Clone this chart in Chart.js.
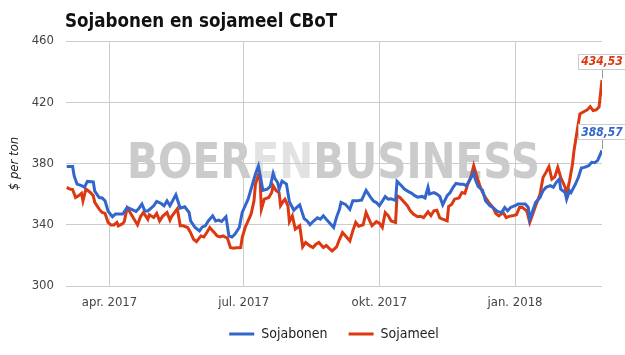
<!DOCTYPE html>
<html><head><meta charset="utf-8">
<script src="https://cdn.jsdelivr.net/npm/chart.js@4/dist/chart.umd.min.js"></script>
<style>html,body{margin:0;padding:0;background:#fff}#wrap{width:625px;height:355px;position:relative}</style>
</head><body><div id="wrap"><canvas id="c" width="625" height="355"></canvas></div>
<script>
// ---- data (days counted from 2017-03-01) ----
const chartTitle = 'Sojabonen en sojameel CBoT';
const axisTitle = '$ per ton';
const watermark = ['BOER', 'EN', 'BUSINESS'];
const seriesNames = ['Sojabonen', 'Sojameel'];
const tickDays = [31, 122, 214, 306];
const tickLabels = ['apr. 2017', 'jul. 2017', 'okt. 2017', 'jan. 2018'];
const yTicks = [300, 340, 380, 420, 460];

const soyDays = [2,6,7,9,12,14,16,20,21,24,26,28,30,33,35,40,43,46,49,51,53,55,57,61,63,66,68,70,72,76,79,82,85,86,89,92,94,96,98,101,103,105,107,110,112,114,116,119,121,123,125,128,130,132,134,135,138,140,142,143,145,146,148,151,153,156,158,160,163,165,167,169,172,174,176,178,180,183,185,187,188,191,194,196,199,202,205,208,210,212,214,218,220,222,225,226,229,231,234,236,238,240,243,245,247,248,251,253,255,257,260,262,264,266,269,271,273,275,278,279,281,284,286,289,291,294,297,299,301,303,306,308,310,313,315,316,318,320,323,325,327,330,332,334,336,337,340,341,343,344,347,349,351,353,356,358,360,362,365];
const soyValues = [378,378,372,366.5,365.5,364.5,368.3,368,362,357.8,357.5,355.6,349,345.2,347,347,351.3,350,348.7,350.8,353.5,349,349,352.4,355.2,353.9,352.4,355.6,352.4,359.6,350.8,351.7,348,342.5,338.2,336,338.6,339.3,342.5,345.8,342.5,343,342.1,345.2,332.7,332,333.8,338.2,348,352.4,356.7,366.6,373.1,378.3,368,362.5,363.3,365,373.5,370.5,367.6,363,368.5,366.6,355,349.5,351.3,353,344,342.5,340,342.1,344.5,343.6,345.8,343.6,341.5,338.2,345,350.2,354.6,353.3,350,355.6,355.6,356.1,362.4,358,355.5,354.5,352.4,358.4,356.7,357,355.8,368.3,365.5,363.3,361.5,360.5,359,358,358.5,357.5,364.5,360,361,360,358.5,353,359,361,364.5,367,366.5,366.5,365.5,368.7,374,369.8,365,362.5,355.6,352.4,351.3,348.7,348,351.3,349.1,351.3,352.4,353.5,353.5,353.5,351.3,343.6,349.1,354.6,357.8,362.2,364.4,365.5,364.5,367.7,369.8,363.3,361.1,356.7,362.2,361,366.6,371,377,377.5,378.6,380.8,380.5,381.9,388.57];

const mealDays = [2,4,6,8,10,12,13,15,18,20,21,24,26,28,30,32,34,36,37,40,41,43,45,47,50,52,54,57,58,61,63,65,67,70,72,73,77,79,81,84,86,88,90,93,95,97,99,102,104,106,108,111,113,115,117,120,121,123,125,127,129,130,132,133,134,136,139,141,142,144,146,147,149,150,152,153,155,157,160,162,164,167,169,171,173,176,178,180,182,185,187,189,192,194,196,198,200,203,205,207,209,212,214,216,218,220,222,225,226,228,230,233,235,237,240,242,244,247,249,251,253,255,257,260,261,263,265,268,270,272,274,276,278,280,282,284,286,289,291,293,295,298,300,302,305,307,309,311,314,316,318,320,323,325,327,329,331,333,335,337,340,341,343,345,346,348,350,352,355,357,359,361,363,365];
const mealValues = [364.4,363.3,363,357.8,358.9,360.5,355.6,363.3,361.1,358.9,354.6,350.2,348,347.4,341.5,339.9,339.9,341.5,339.3,340.8,342.1,350.8,348,344.7,339.9,345.2,348,343.6,346.5,344.7,347.4,342.5,345.5,348,343,345.2,350.5,339.3,339.3,338.2,334.9,330.5,329,332.7,332,334.9,338.2,335,332.7,332,332.7,331.2,325.1,324.6,325,325.1,331.6,338.2,342.5,346.9,355.6,366.6,372.5,372,350.2,356.7,357.8,361.1,365.5,362.2,361,352.5,355.6,356.7,352.4,342,345.8,337.1,339.3,325.5,328.4,326.2,325.1,327.3,328.4,325.1,326.5,324.6,322.9,325.5,330.5,334.9,331.6,329.4,336,341.5,339,340,348,343.6,339.3,342,341,338.2,348,346,342.5,341.5,358.9,357.8,355.6,352.4,349.1,347,345.2,345.5,344.7,348.5,346,349.1,349.5,344.5,343.6,342.5,352,353.3,356.7,357.5,361.1,360.5,366.6,370.9,378.6,372,366,361.1,357.8,353.5,351.3,347.3,345.8,348,344.7,345.5,346,346.5,351.3,351.3,349,341.5,346.9,352.4,360,370.9,374.2,377.9,369.8,371.3,377.5,371,364.4,360,368.7,379.7,388.4,400.4,412.4,413.5,415,417.2,414.6,415,416.8,434.53];

const BLUE = '#3366cc';
const RED = '#dc3912';
const FONT = "'DejaVu Sans Condensed','DejaVu Sans',sans-serif";

const toPoints = (days, vals) => days.map((d, i) => ({x: d, y: vals[i]}));

const watermarkPlugin = {
  id: 'watermark',
  beforeDraw(chart) {
    const ctx = chart.ctx;
    ctx.save();
    ctx.font = "bold 49px 'DejaVu Sans', sans-serif";
    const widths = watermark.map(w => ctx.measureText(w).width);
    const total = widths.reduce((a, b) => a + b, 0);
    const sx = 413 / total;
    ctx.translate(127, 178);
    ctx.scale(sx, 1);
    ctx.textBaseline = 'alphabetic';
    let x = 0;
    const cols = ['#cbcbcb', '#e2e2e2', '#cbcbcb'];
    watermark.forEach((w, i) => {
      ctx.fillStyle = cols[i];
      ctx.fillText(w, x, 0);
      x += widths[i];
    });
    ctx.restore();
  }
};

const titlePlugin = {
  id: 'customTitle',
  afterDraw(chart) {
    const ctx = chart.ctx;
    ctx.save();
    ctx.font = "bold 18.6px " + FONT;
    ctx.fillStyle = '#111';
    ctx.textBaseline = 'alphabetic';
    ctx.fillText(chartTitle, 65, 27);
    ctx.restore();
  }
};

const legendShiftPlugin = {
  id: 'legendShift',
  afterLayout(chart) {
    const lg = chart.legend;
    if (lg) {
      const dx = (chart.chartArea.left + chart.chartArea.right) / 2 - (lg.left + lg.right) / 2;
      lg.left += dx;
      lg.right += dx;
      lg.top -= 6;
      lg.bottom -= 6;
    }
  }
};

const endLabelPlugin = {
  id: 'endLabels',
  afterDatasetsDraw(chart) {
    const ctx = chart.ctx;
    chart.data.datasets.forEach((ds, i) => {
      const meta = chart.getDatasetMeta(i);
      const last = meta.data[meta.data.length - 1];
      const val = ds.data[ds.data.length - 1].y;
      const txt = val.toFixed(2).replace('.', ',');
      const px = last.x, py = last.y;
      const w = 48, h = 15;
      const bx = px - w / 2, by = py - 11.5 - h;
      ctx.save();
      ctx.strokeStyle = '#999';
      ctx.lineWidth = 1;
      ctx.beginPath();
      ctx.moveTo(Math.round(px) + 0.5, by + h);
      ctx.lineTo(Math.round(px) + 0.5, py - 1.5);
      ctx.stroke();
      ctx.fillStyle = '#fff';
      ctx.fillRect(bx, by, w, h);
      ctx.strokeStyle = '#ccc';
      ctx.strokeRect(Math.round(bx) + 0.5, Math.round(by) + 0.5, w, h);
      ctx.font = "italic bold 12px " + FONT;
      ctx.fillStyle = ds.borderColor;
      ctx.textAlign = 'center';
      ctx.textBaseline = 'middle';
      ctx.fillText(txt, px, by + h / 2 + 1);
      ctx.restore();
    });
  }
};

Chart.defaults.font.family = FONT;

new Chart(document.getElementById('c'), {
  type: 'line',
  data: {
    datasets: [
      {label: seriesNames[0], data: toPoints(soyDays, soyValues), borderColor: BLUE, backgroundColor: BLUE, borderWidth: 3, pointRadius: 0, tension: 0, fill: false},
      {label: seriesNames[1], data: toPoints(mealDays, mealValues), borderColor: RED, backgroundColor: RED, borderWidth: 3, pointRadius: 0, tension: 0, fill: false}
    ]
  },
  options: {
    responsive: false,
    devicePixelRatio: 1,
    animation: false,
    events: [],
    layout: {padding: {top: 41, right: 23, left: 0, bottom: -2}},
    scales: {
      x: {
        type: 'linear',
        min: 1.5, max: 365,
        afterBuildTicks: (scale) => { scale.ticks = tickDays.map(v => ({value: v})); },
        afterFit: (scale) => { scale.height = 26; },
        ticks: {
          callback: (v) => { const i = tickDays.indexOf(v); return i >= 0 ? tickLabels[i] : ''; },
          color: '#444', font: {size: 13}, padding: 9, maxRotation: 0, autoSkip: false
        },
        grid: {color: '#cccccc', drawTicks: false, lineWidth: 1},
        border: {display: false}
      },
      y: {
        min: 300, max: 460,
        afterBuildTicks: (scale) => { scale.ticks = yTicks.map(v => ({value: v})); },
        afterFit: (scale) => { scale.width = 66; },
        ticks: {color: '#444', font: {size: 13}, padding: 12},
        grid: {color: '#cccccc', drawTicks: false, lineWidth: 1},
        border: {display: false},
        title: {display: true, text: axisTitle, color: '#222', font: {size: 13, style: 'italic'}, padding: {top: 7, bottom: 0}}
      }
    },
    plugins: {
      title: {display: false},
      tooltip: {enabled: false},
      legend: {
        position: 'bottom',
        labels: {usePointStyle: true, pointStyle: 'line', pointStyleWidth: 25, color: '#222', font: {size: 14}, padding: 21}
      }
    }
  },
  plugins: [watermarkPlugin, titlePlugin, legendShiftPlugin, endLabelPlugin]
});
</script></body></html>
